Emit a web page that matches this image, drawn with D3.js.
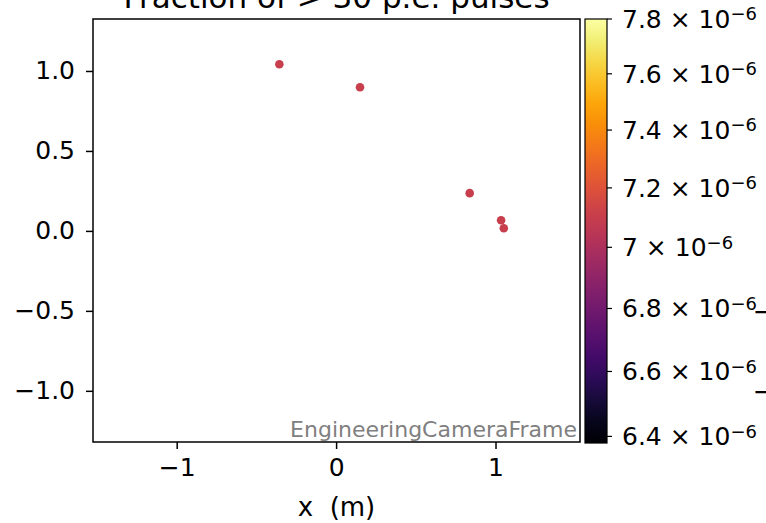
<!DOCTYPE html>
<html>
<head>
<meta charset="utf-8">
<script src="https://cdn.jsdelivr.net/npm/d3@7"></script>
<style>
  body { margin: 0; background: #fff; }
  text { font-family: "DejaVu Sans", sans-serif; fill: #000; }
</style>
</head>
<body>
<div id="chart"></div>
<script>
// data
var xs = [-0.356, 0.15, 0.838, 1.035, 1.052];
var ys = [1.042, 0.898, 0.236, 0.067, 0.017];
var vals = [7.1e-6, 7.1e-6, 7.1e-6, 7.1e-6, 7.1e-6];
var xTicks = [-1, 0, 1];
var yTicks = [-1, -0.5, 0, 0.5, 1];
var cbTicks = [6.4e-6, 6.6e-6, 6.8e-6, 7.0e-6, 7.2e-6, 7.4e-6, 7.6e-6, 7.8e-6];
var nextPanelTicks = [-0.5, -1.0];

var svgWidth = 766;
var svgHeight = 523;

var svg = d3.select("#chart")
  .append("svg")
  .attr("width", svgWidth)
  .attr("height", svgHeight);

var plot = { left: 93, right: 580, top: 19, bottom: 442 };
var cb = { left: 585, right: 607, top: 19, bottom: 443 };

// scales
var xScale = d3.scaleLinear().domain([-1.525, 1.53]).range([plot.left, plot.right]);
var yScale = d3.scaleLinear().domain([-1.32, 1.325]).range([plot.bottom, plot.top]);
var cScale = d3.scaleLog().domain([6.38e-6, 7.8e-6]).range([cb.bottom, cb.top]);
var colorNorm = d3.scaleLog().domain(cScale.domain()).range([0, 1]);
var color = function(v) { return d3.interpolateInferno(colorNorm(v)); };

// title (cut off at the top)
svg.append("text")
  .attr("x", (plot.left + plot.right) / 2)
  .attr("y", 8)
  .attr("text-anchor", "middle")
  .style("font-size", "31px")
  .text("Fraction of > 30 p.e. pulses");

// axes
var xAxis = d3.axisBottom(xScale).tickValues(xTicks).tickSize(7).tickPadding(9)
  .tickFormat(d => d3.format("d")(d).replace("-", "\u2212"));
var yAxis = d3.axisLeft(yScale).tickValues(yTicks).tickSize(7).tickPadding(11)
  .tickFormat(d => d3.format(".1f")(d).replace("-", "\u2212"));

var gx = svg.append("g")
  .attr("transform", `translate(0, ${plot.bottom})`)
  .call(xAxis);
var gy = svg.append("g")
  .attr("transform", `translate(${plot.left}, 0)`)
  .call(yAxis);

[gx, gy].forEach(function(g) {
  g.select(".domain").remove();
  g.selectAll(".tick line").attr("stroke", "#000").attr("stroke-width", 1.5);
  g.selectAll(".tick text").style("font-size", "25px").attr("fill", "#000");
});

// markers
svg.append("g")
  .selectAll("circle")
  .data(xs)
  .enter()
  .append("circle")
  .attr("cx", (d, i) => xScale(xs[i]))
  .attr("cy", (d, i) => yScale(ys[i]))
  .attr("r", 4.3)
  .attr("fill", (d, i) => color(vals[i]));

// frame
svg.append("rect")
  .attr("x", plot.left)
  .attr("y", plot.top)
  .attr("width", plot.right - plot.left)
  .attr("height", plot.bottom - plot.top)
  .attr("fill", "none")
  .attr("stroke", "#000")
  .attr("stroke-width", 1.5);

// frame name
svg.append("text")
  .attr("x", plot.right - 3)
  .attr("y", plot.bottom - 5)
  .attr("text-anchor", "end")
  .style("font-size", "22px")
  .style("fill", "#808080")
  .text("EngineeringCameraFrame");

// x label
svg.append("text")
  .attr("x", (plot.left + plot.right) / 2)
  .attr("y", 516)
  .attr("text-anchor", "middle")
  .style("font-size", "26px")
  .attr("xml:space", "preserve")
  .text("x  (m)");

// colorbar
var defs = svg.append("defs");
var grad = defs.append("linearGradient")
  .attr("id", "cbgrad")
  .attr("x1", 0).attr("y1", 1).attr("x2", 0).attr("y2", 0);
d3.range(0, 1.0001, 0.05).forEach(function(t) {
  grad.append("stop")
    .attr("offset", t)
    .attr("stop-color", d3.interpolateInferno(t));
});

svg.append("rect")
  .attr("x", cb.left)
  .attr("y", cb.top)
  .attr("width", cb.right - cb.left)
  .attr("height", cb.bottom - cb.top)
  .attr("fill", "url(#cbgrad)")
  .attr("stroke", "#000")
  .attr("stroke-width", 1.2);

var cbAxis = svg.append("g").attr("transform", `translate(${cb.right}, 0)`);
var cbTick = cbAxis.selectAll("g")
  .data(cbTicks)
  .enter()
  .append("g")
  .attr("transform", d => `translate(0, ${cScale(d)})`);

cbTick.append("line")
  .attr("x1", 0).attr("x2", 5)
  .attr("stroke", "#000")
  .attr("stroke-width", 1.2);

var cbText = cbTick.append("text")
  .attr("x", 15)
  .attr("dy", "0.35em")
  .style("font-size", "25px");
cbText.append("tspan")
  .text(d => d3.format(".2~f")(d * 1e6) + " \u00d7 10");
cbText.append("tspan")
  .attr("dy", "-0.42em")
  .style("font-size", "18px")
  .text("\u22126");

// tick labels of the neighbouring panel, clipped at the right edge
svg.append("g")
  .selectAll("text")
  .data(nextPanelTicks)
  .enter()
  .append("text")
  .attr("x", 753)
  .attr("y", d => yScale(d))
  .attr("dy", "0.35em")
  .style("font-size", "25px")
  .text(d => d3.format(".1f")(d).replace("-", "\u2212"));
</script>
</body>
</html>
